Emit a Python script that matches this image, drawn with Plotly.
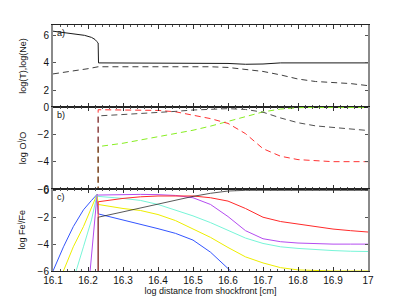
import plotly.graph_objects as go
from plotly.subplots import make_subplots

# ---------------- Panel a: temperature and electron density ----------------
x_T = [16.1, 16.15, 16.19, 16.21, 16.22, 16.225, 16.229, 16.23, 16.4, 16.55, 16.6, 16.65, 16.7, 16.75, 17.0]
logT = [6.3, 6.15, 6.0, 5.85, 5.7, 5.55, 5.45, 4.0, 4.0, 4.0, 3.96, 3.9, 3.92, 4.0, 4.0]
x_Ne = [16.1, 16.15, 16.2, 16.229, 16.45, 16.55, 16.6, 16.65, 16.7, 16.75, 16.8, 16.85, 16.9, 16.95, 17.0]
logNe = [3.2, 3.38, 3.58, 3.72, 3.73, 3.72, 3.67, 3.55, 3.38, 3.13, 2.83, 2.65, 2.57, 2.5, 2.35]

# ---------------- Panel b: oxygen ionisation fractions ----------------
x_O = [16.229, 16.229, 16.3, 16.4, 16.45, 16.5, 16.55, 16.6, 16.65, 16.7, 16.75, 16.8, 16.85, 16.9, 17.0]
O_red = [-7, -0.2, -0.22, -0.25, -0.35, -0.6, -0.85, -1.2, -1.95, -3.05, -3.6, -3.85, -3.95, -4.0, -4.0]
O_black = [-7, -0.65, -0.55, -0.42, -0.32, -0.22, -0.15, -0.12, -0.18, -0.38, -0.8, -1.15, -1.38, -1.5, -1.72]
O_green = [-7, -2.9, -2.65, -2.2, -1.95, -1.7, -1.4, -1.05, -0.7, -0.36, -0.15, -0.05, -0.03, -0.03, -0.03]

# ---------------- Panel c: iron ionisation fractions ----------------
x_post = [16.229, 16.3, 16.35, 16.4, 16.45, 16.5, 16.55, 16.6, 16.65, 16.7, 16.75, 16.8, 16.85, 16.9, 16.95, 17.0]

fe_blue_x = [16.095, 16.1, 16.13, 16.158, 16.187, 16.21, 16.226] + [16.229, 16.3, 16.35, 16.4, 16.45, 16.5, 16.55, 16.6, 16.62]
fe_blue = [-6.3, -6.0, -4.2, -2.7, -1.45, -0.75, -0.3] + [-1.75, -2.2, -2.5, -2.85, -3.2, -3.7, -4.6, -5.8, -6.3]
fe_yellow_x = [16.125, 16.13, 16.158, 16.187, 16.21, 16.226] + x_post
fe_yellow = [-6.3, -6.0, -4.2, -2.7, -1.3, -0.3] + [-1.05, -1.35, -1.5, -1.8, -2.25, -2.85, -3.5, -4.25, -4.95, -5.4, -5.75, -5.92, -5.98, -6.0, -6.0, -6.0]
fe_cyan_x = [16.163, 16.166, 16.187, 16.21, 16.226] + x_post
fe_cyan = [-6.3, -6.0, -4.2, -2.2, -0.3] + [-0.45, -0.6, -0.75, -1.05, -1.45, -1.9, -2.4, -3.0, -3.55, -3.95, -4.2, -4.32, -4.42, -4.48, -4.53, -4.55]
fe_magenta_x = [16.205, 16.206, 16.215, 16.226] + x_post
fe_magenta = [-6.3, -6.0, -3.3, -0.3] + [-0.35, -0.3, -0.3, -0.32, -0.38, -0.55, -1.05, -1.95, -3.0, -3.6, -3.82, -3.92, -3.97, -4.0, -4.0, -4.0]
fe_red_x = [16.229] + x_post
fe_red = [-7] + [-0.85, -0.6, -0.48, -0.42, -0.4, -0.42, -0.55, -0.8, -1.35, -2.0, -2.32, -2.52, -2.7, -2.88, -3.0, -3.1]
fe_black_x = [16.229] + x_post
fe_black = [-7] + [-2.0, -1.6, -1.3, -1.0, -0.7, -0.45, -0.22, -0.05, 0.0, 0.0, 0.0, 0.0, 0.0, 0.0, 0.0, 0.0]

x_ticks = [16.1, 16.2, 16.3, 16.4, 16.5, 16.6, 16.7, 16.8, 16.9, 17.0]
x_ticklabels = ["16.1", "16.2", "16.3", "16.4", "16.5", "16.6", "16.7", "16.8", "16.9", "17"]

FONT = "Liberation Sans, Arial, sans-serif"
DASH = "6px,4px"

fig = make_subplots(rows=3, cols=1, shared_xaxes=True, vertical_spacing=0)

def line(x, y, color, row, dash=None, width=1, opacity=1.0):
    fig.add_trace(go.Scatter(x=x, y=y, mode="lines", showlegend=False, opacity=opacity,
                             line=dict(color=color, width=width, dash=dash)),
                  row=row, col=1)

line(x_T, logT, "#1a1a1a", 1)
line(x_Ne, logNe, "#404040", 1, DASH)

line(x_O, O_green, "#88ee22", 2, DASH)
line(x_O, O_red, "#ff3333", 2, DASH)
line(x_O, O_black, "#333333", 2, DASH, opacity=0.85)

line(fe_blue_x, fe_blue, "#3355ff", 3)
line(fe_yellow_x, fe_yellow, "#eeee00", 3)
line(fe_cyan_x, fe_cyan, "#77f5d8", 3)
line(fe_magenta_x, fe_magenta, "#b44cf0", 3)
line(fe_red_x, fe_red, "#ff2a2a", 3)
line(fe_black_x, fe_black, "#222222", 3, opacity=0.75)

for r in (1, 2, 3):
    fig.update_xaxes(range=[16.1, 17.0], tickvals=x_ticks, ticktext=x_ticklabels,
                     ticks="inside", ticklen=4, tickcolor="#333", showgrid=False,
                     zeroline=False, showline=True, linecolor="#222", linewidth=1,
                     mirror="allticks",
                     minor=dict(dtick=0.02, tick0=16.1, ticks="inside", ticklen=2, tickcolor="#555"),
                     tickfont=dict(family=FONT, size=10, color="#111"),
                     showticklabels=(r == 3), row=r, col=1)

fig.update_yaxes(range=[0.8, 6.75], tickvals=[2, 4, 6], row=1, col=1)
fig.update_yaxes(range=[-6, 0], tickvals=[-6, -4, -2, 0], row=2, col=1)
fig.update_yaxes(range=[-6, 0.1], tickvals=[-6, -4, -2, 0], row=3, col=1)
fig.update_yaxes(ticks="inside", ticklen=3, tickcolor="#555", showgrid=False, zeroline=False,
                 showline=True, linecolor="#8a8a8a", linewidth=2, mirror="allticks",
                 tickfont=dict(family=FONT, size=10, color="#111"))

fig.update_xaxes(title=dict(text="log distance from shockfront [cm]",
                            font=dict(family=FONT, size=9, color="#111"), standoff=2),
                 row=3, col=1)

ann = []
for text, yc in [("log(T),log(Ne)", 0.835), ("log O<sup>i</sup>/O", 0.5), ("log Fe<sup>i</sup>/Fe", 0.165)]:
    ann.append(dict(text=text, xref="paper", yref="paper", x=-0.098, y=yc, textangle=-90,
                    showarrow=False, xanchor="center", yanchor="middle",
                    font=dict(family=FONT, size=9, color="#111")))
for text, yt in [("a)", 1.0), ("b)", 2/3), ("c)", 1/3)]:
    ann.append(dict(text=text, xref="paper", yref="paper", x=0.005, y=yt - 0.005,
                    showarrow=False, xanchor="left", yanchor="top",
                    font=dict(family=FONT, size=9, color="#111")))

fig.update_layout(width=407, height=306, margin=dict(l=45, r=47, t=15, b=43),
                  paper_bgcolor="white", plot_bgcolor="white", annotations=ann,
                  font=dict(family=FONT))

fig.write_html("out.html")
